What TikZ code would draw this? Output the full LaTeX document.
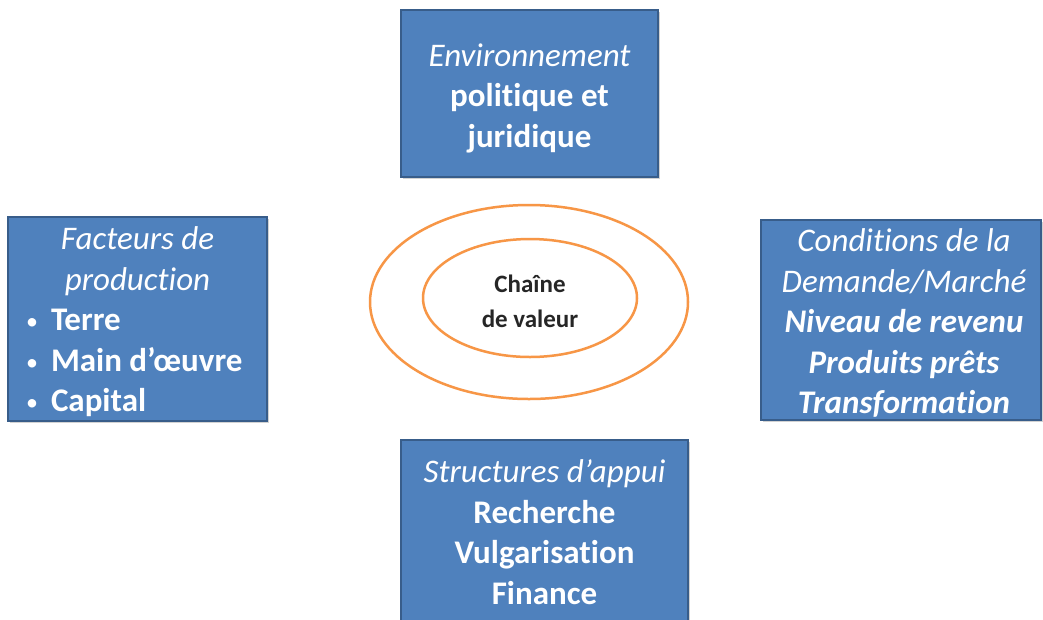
\documentclass[tikz,border=0pt]{standalone}
\usepackage{fontspec}
\setmainfont{Carlito}[Ligatures={NoCommon,TeX}]
\usetikzlibrary{shadows,shapes.geometric}
\definecolor{boxblue}{HTML}{4F81BD}
\definecolor{boxedge}{HTML}{385D8A}
\definecolor{ringorange}{HTML}{F79646}
\definecolor{darktext}{HTML}{262626}
\newcommand{\bul}{\makebox[25pt][l]{\raisebox{1pt}{\fontsize{24}{24}\selectfont •}}}
\begin{document}
\begin{tikzpicture}[x=1pt,y=-1pt,
  panel/.style={draw=boxedge, line width=1.5pt, fill=boxblue, inner sep=0pt,
    drop shadow={opacity=0.35, shadow xshift=1.5pt, shadow yshift=-2pt}},
  paneltext/.style={text=white, font=\fontsize{33}{40.5}\selectfont,
    align=center, inner sep=0pt},
  ring/.style={draw=ringorange, line width=2.5pt, ellipse, inner sep=0pt}]
\clip (0,0) rectangle (1043,619);
\fill[white] (0,0) rectangle (1043,619);

% boxes
\node[panel, minimum width=257pt, minimum height=167pt] (env) at (529.5,93.5) {};
\node[panel, minimum width=259pt, minimum height=204pt] (fact) at (137.5,319) {};
\node[panel, minimum width=280pt, minimum height=200pt] (cond) at (901,320) {};
\node[panel, minimum width=287pt, minimum height=185pt] (appui) at (544.5,532.5) {};

% texts
\node[paneltext] (envtxt) at (529.5,98)
  {\itshape Environnement\\ \bfseries politique et\\ \bfseries juridique};
\node[paneltext, text width=223pt, align=flush left] (facttxt) at (137.5,322)
  {\makebox[\linewidth][c]{\itshape Facteurs de}\\
   \makebox[\linewidth][c]{\itshape production}\\
   \bul\textbf{Terre}\\
   \bul\textbf{Main d’œuvre}\\
   \bul\textbf{Capital}};
\node[paneltext] (condtxt) at (904,323)
  {\itshape Conditions de la\\ \itshape Demande/Marché\\
   \bfseries\itshape Niveau de revenu\\ \bfseries\itshape Produits prêts\\
   \bfseries\itshape Transformation};
\node[paneltext] (appuitxt) at (544.5,532)
  {\itshape Structures d’appui\\ \bfseries Recherche\\ \bfseries Vulgarisation\\
   \bfseries Finance};

% rings
\node[ring, minimum width=318pt, minimum height=194pt] (outer) at (529,302) {};
\node[ring, minimum width=214pt, minimum height=118pt] (inner) at (530,298) {};
\node[text=darktext, font=\fontsize{25}{35}\selectfont\bfseries, align=center,
      inner sep=0pt] (chain) at (530,301) {Chaîne\\de valeur};
\end{tikzpicture}
\end{document}
